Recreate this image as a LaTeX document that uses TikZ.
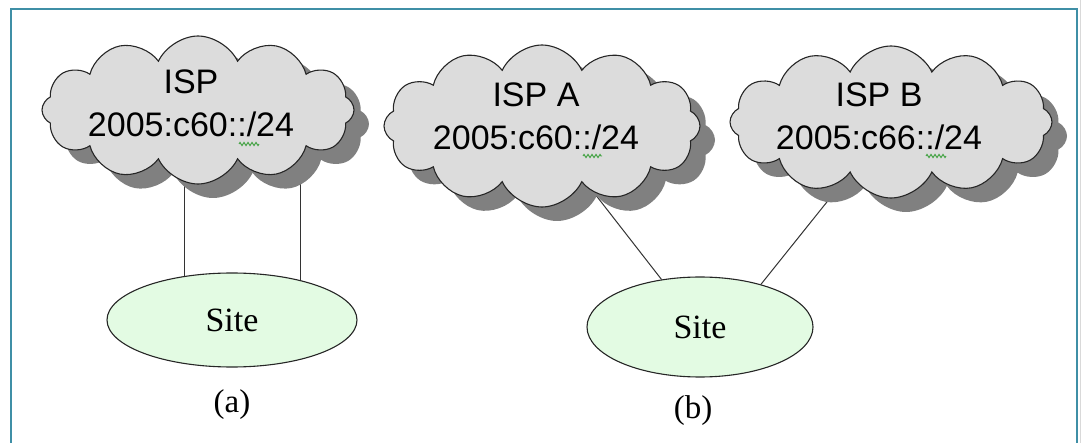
\documentclass[tikz,border=0pt]{standalone}
\usepackage{fontspec}
\setmainfont{Liberation Serif}
\newfontfamily\arialfont{Liberation Sans}
\usetikzlibrary{shapes.symbols,shapes.geometric,shadows,backgrounds,decorations.pathmorphing}
\definecolor{framecol}{HTML}{3F8FA6}
\definecolor{cloudfill}{HTML}{DCDCDC}
\definecolor{cloudshade}{HTML}{808080}
\definecolor{sitefill}{HTML}{E3FBE3}
\definecolor{squiggle}{HTML}{3CA03C}
\begin{document}
\begin{tikzpicture}[x=1pt,y=-1pt,
  ispcloud/.style={cloud, cloud puffs=12, cloud puff arc=130, cloud ignores aspect,
    draw=black!85, line width=1.1pt, fill=cloudfill, inner sep=0pt,
    drop shadow={shadow xshift=15pt, shadow yshift=-14pt, fill=cloudshade, opacity=1, draw=none}},
  isptext/.style={font=\arialfont\fontsize{34}{43}\selectfont, align=center, inner sep=0pt},
  sitenode/.style={ellipse, draw=black!85, line width=1.1pt, fill=sitefill, inner sep=0pt,
    font=\fontsize{34}{38}\selectfont},
  caption/.style={font=\fontsize{33}{38}\selectfont, inner sep=0pt},
  link/.style={draw=black!80, line width=1pt},
  spell/.style={draw=squiggle, line width=0.9pt, decorate,
    decoration={zigzag, segment length=4pt, amplitude=1.6pt}}
]
\useasboundingbox (0,0) rectangle (1081,443);

% frame
\draw[framecol, line width=2pt] (11,443) -- (11,9) -- (1077,9) -- (1077,443);
\draw[black!15, line width=1pt] (1080,0) -- (1080,443);

% (a) single provider
\node[ispcloud, minimum width=312pt, minimum height=148pt] (ispcloud) at (198,110) {};
\node[isptext] (isplabel) at (191,103) {ISP\\2005:c60::/24};
\node[sitenode, minimum width=250pt, minimum height=94pt] (sitea) at (232,320) {Site};
\node[caption] (capa) at (232,405) {(a)};

% (b) two providers
\node[ispcloud, minimum width=316pt, minimum height=162pt] (ispAcloud) at (542,126) {};
\node[isptext] (ispAlabel) at (536,116) {ISP A\\2005:c60::/24};
\node[ispcloud, minimum width=322pt, minimum height=152pt] (ispBcloud) at (891,122) {};
\node[isptext] (ispBlabel) at (879,116) {ISP B\\2005:c66::/24};
\node[sitenode, minimum width=226pt, minimum height=100pt] (siteb) at (700,327) {Site};
\node[caption] (capb) at (693,411) {(b)};

% links, passing under the clouds
\begin{scope}[on background layer]
  \draw[link] (sitea.137) -- (sitea.137 |- ispcloud.center);
  \draw[link] (sitea.30) -- (sitea.30 |- ispcloud.center);
  \draw[link] (siteb.129) -- (ispAcloud.center);
  \draw[link] (siteb.35) -- (ispBcloud.center);
\end{scope}

% spell-check marks under the prefixes
\draw[spell] (239,144) -- (259,144);
\draw[spell] (583,156) -- (602,156);
\draw[spell] (926,156) -- (946,156);
\end{tikzpicture}
\end{document}
